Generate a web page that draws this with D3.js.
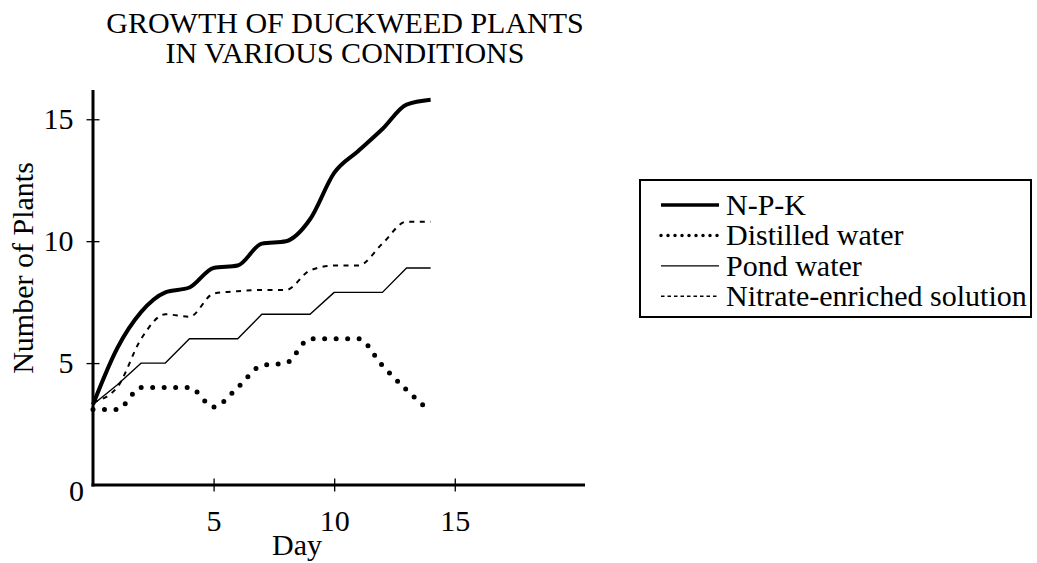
<!DOCTYPE html>
<html>
<head>
<meta charset="utf-8">
<script src="https://cdn.jsdelivr.net/npm/d3@7"></script>
<style>
  body { margin: 0; background: #fff; }
  text { font-family: "Liberation Serif", "Times New Roman", serif; fill: #000; }
</style>
</head>
<body>
<script>
// values
var days = [0, 1, 2, 3, 4, 5, 6, 7, 8, 9, 10, 11, 12, 13, 14];
var npk = [3.3, 5.6, 7.1, 7.9, 8.1, 8.9, 9.0, 9.9, 10.0, 10.9, 12.8, 13.7, 14.6, 15.6, 15.8];
var distilled = [3.1, 3.1, 4.0, 4.0, 4.0, 3.2, 4.0, 4.9, 5.0, 6.0, 6.0, 6.0, 4.9, 3.9, 3.0];
var pond = [3.3, 4.1, 5.0, 5.0, 6.0, 6.0, 6.0, 7.0, 7.0, 7.0, 7.9, 7.9, 7.9, 8.9, 8.9];
var nitrate = [3.4, 4.0, 6.0, 7.0, 6.9, 7.85, 7.95, 8.0, 8.0, 8.8, 9.0, 9.0, 9.9, 10.8, 10.8];

var seriesNames = ["N-P-K", "Distilled water", "Pond water", "Nitrate-enriched solution"];
var xTicks = [5, 10, 15];
var yTicks = [5, 10, 15];

var width = 1037,
    height = 563;

var svg = d3.select("body")
    .append("svg")
    .attr("width", width)
    .attr("height", height);

var x = d3.scaleLinear().domain([0, 20.4]).range([93, 585]);
var y = d3.scaleLinear().domain([0, 16.2]).range([485, 90]);

// line styles per series
var styles = [
    {width: 4, dash: null, cap: "butt", curve: d3.curveMonotoneX},
    {width: 5, dash: "0 11.5", cap: "round", curve: d3.curveMonotoneX},
    {width: 1.4, dash: null, cap: "butt", curve: d3.curveLinear},
    {width: 2, dash: "5 5.5", cap: "butt", curve: d3.curveMonotoneX}
];
var legendStyles = [
    {width: 3.5, dash: null, cap: "butt"},
    {width: 3.5, dash: "0 7", cap: "round"},
    {width: 1.2, dash: null, cap: "butt"},
    {width: 1.5, dash: "3.5 3", cap: "butt"}
];

var series = [npk, distilled, pond, nitrate];

// title
svg.append("text")
    .attr("x", 345)
    .attr("y", 33)
    .attr("text-anchor", "middle")
    .style("font-size", "30px")
    .text("GROWTH OF DUCKWEED PLANTS");
svg.append("text")
    .attr("x", 345)
    .attr("y", 63)
    .attr("text-anchor", "middle")
    .style("font-size", "30px")
    .text("IN VARIOUS CONDITIONS");

// axes
var xAxis = svg.append("g")
    .attr("transform", "translate(0," + y(0) + ")")
    .call(d3.axisBottom(x).tickValues(xTicks).tickSizeInner(6.5).tickSizeOuter(0).tickPadding(18));
var yAxis = svg.append("g")
    .attr("transform", "translate(" + x(0) + ",0)")
    .call(d3.axisLeft(y).tickValues(yTicks).tickSizeInner(6.5).tickSizeOuter(0).tickPadding(13));

xAxis.select(".domain").attr("stroke-width", 3).attr("d", "M" + (x(0) - 1.5) + ",0H" + x(20.4));
yAxis.select(".domain").attr("stroke-width", 3).attr("d", "M0," + y(16.2) + "V" + (y(0) + 1.5));

// ticks cross the axis line
xAxis.selectAll(".tick line").attr("y1", -6.5).attr("y2", 6.5).attr("stroke-width", 1.3);
yAxis.selectAll(".tick line").attr("x1", -6.5).attr("x2", 6.5).attr("stroke-width", 1.3);
xAxis.selectAll(".tick text").style("font-size", "30px").style("font-family", "Liberation Serif");
yAxis.selectAll(".tick text").style("font-size", "30px").style("font-family", "Liberation Serif");

svg.append("text")
    .attr("x", 84)
    .attr("y", 501)
    .attr("text-anchor", "end")
    .style("font-size", "30px")
    .text("0");

// axis titles
svg.append("text")
    .attr("x", 297)
    .attr("y", 555)
    .attr("text-anchor", "middle")
    .style("font-size", "30px")
    .text("Day");
svg.append("text")
    .attr("transform", "translate(33,268) rotate(-90)")
    .attr("text-anchor", "middle")
    .style("font-size", "30px")
    .text("Number of Plants");

// lines
series.forEach(function(vals, i) {
    var st = styles[i];
    var line = d3.line()
        .x(function(d, j) { return x(days[j]); })
        .y(function(d) { return y(d); })
        .curve(st.curve);
    svg.append("path")
        .datum(vals)
        .attr("d", line)
        .attr("fill", "none")
        .attr("stroke", "#000")
        .attr("stroke-width", st.width)
        .attr("stroke-linecap", st.cap)
        .attr("stroke-linejoin", "round")
        .attr("stroke-dasharray", st.dash);
});

// legend
var legend = svg.append("g").attr("id", "legend");
legend.append("rect")
    .attr("x", 640)
    .attr("y", 180)
    .attr("width", 391)
    .attr("height", 137)
    .attr("fill", "none")
    .attr("stroke", "#000")
    .attr("stroke-width", 2);

seriesNames.forEach(function(name, i) {
    var ly = 205 + i * 30.4;
    var st = legendStyles[i];
    legend.append("line")
        .attr("x1", 661)
        .attr("x2", 719)
        .attr("y1", ly)
        .attr("y2", ly)
        .attr("stroke", "#000")
        .attr("stroke-width", st.width)
        .attr("stroke-linecap", st.cap)
        .attr("stroke-dasharray", st.dash);
    legend.append("text")
        .attr("x", 726)
        .attr("y", ly + 10)
        .style("font-size", "30px")
        .text(name);
});
</script>
</body>
</html>
